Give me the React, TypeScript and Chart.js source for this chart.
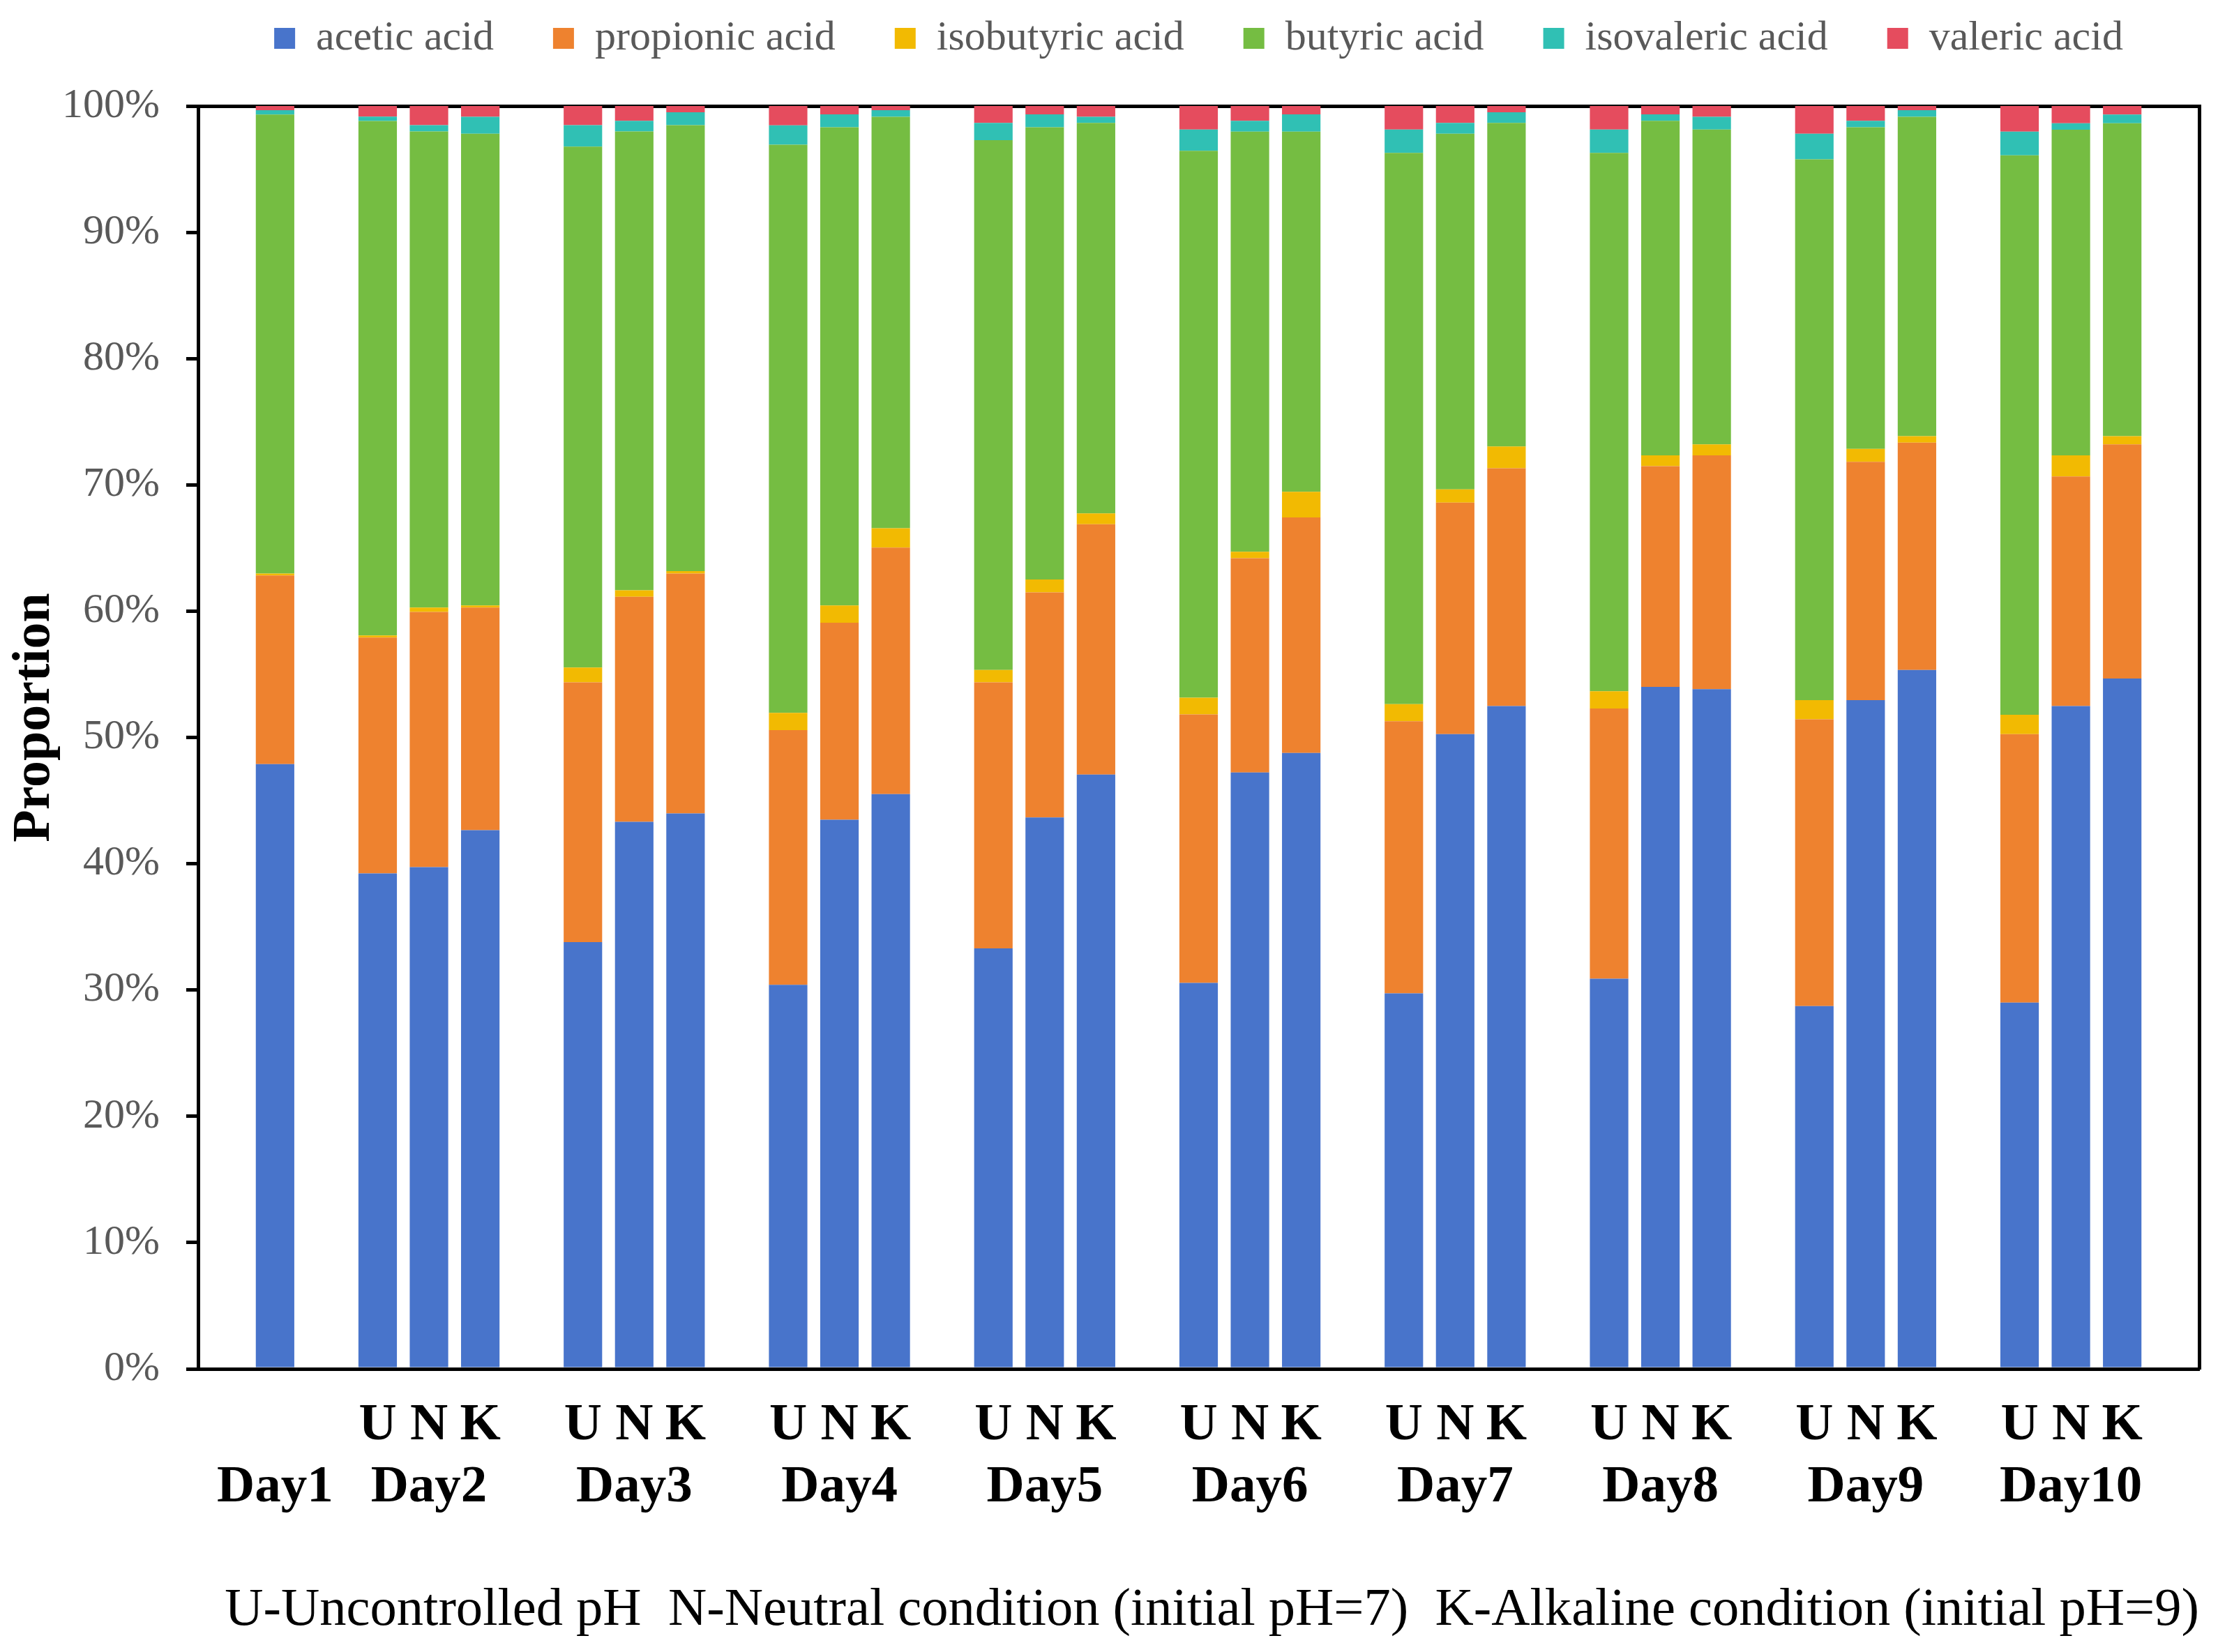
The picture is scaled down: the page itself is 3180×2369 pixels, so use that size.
import { useEffect, useRef } from 'react';
import { Chart, registerables } from 'chart.js';

Chart.register(...registerables);

const days = ['Day1', 'Day2', 'Day3', 'Day4', 'Day5', 'Day6', 'Day7', 'Day8', 'Day9', 'Day10'];
const conditions = ['U', 'N', 'K'];

// proportions in %, order: Day1, then U / N / K for Day2 ... Day10
const acetic = [47.89, 39.23, 39.73, 42.65, 33.8, 43.32, 43.98, 30.41, 43.48, 45.51, 33.3, 43.67, 47.06, 30.57, 47.22, 48.77, 29.74, 50.26, 52.48, 30.89, 54.01, 53.82, 28.73, 52.96, 55.34, 29.01, 52.48, 54.67];
const propionic = [14.93, 18.68, 20.21, 17.64, 20.56, 17.82, 19.0, 20.17, 15.6, 19.53, 21.06, 17.82, 19.82, 21.25, 16.97, 18.65, 21.54, 18.34, 18.84, 21.4, 17.47, 18.52, 22.71, 18.87, 18.01, 21.25, 18.18, 18.53];
const isobutyric = [0.16, 0.16, 0.35, 0.16, 1.17, 0.51, 0.19, 1.37, 1.37, 1.53, 0.98, 1.02, 0.86, 1.33, 0.51, 2.03, 1.36, 1.04, 1.72, 1.37, 0.86, 0.86, 1.52, 1.02, 0.51, 1.53, 1.68, 0.66];
const butyric = [36.34, 40.74, 37.69, 37.35, 41.26, 36.33, 35.31, 44.99, 37.87, 32.58, 41.95, 35.81, 30.92, 43.3, 33.27, 28.52, 43.64, 28.17, 25.62, 42.62, 26.48, 24.94, 42.82, 25.47, 25.29, 44.31, 25.78, 24.78];
const isovaleric = [0.35, 0.35, 0.5, 1.34, 1.69, 0.85, 1.02, 1.53, 1.02, 0.52, 1.37, 1.02, 0.49, 1.69, 0.85, 1.37, 1.86, 0.85, 0.84, 1.86, 0.52, 1.01, 2.03, 0.5, 0.52, 1.87, 0.52, 0.68];
const valeric = [0.33, 0.84, 1.52, 0.86, 1.52, 1.17, 0.5, 1.53, 0.66, 0.33, 1.34, 0.66, 0.85, 1.86, 1.18, 0.66, 1.86, 1.34, 0.5, 1.86, 0.66, 0.85, 2.19, 1.18, 0.33, 2.03, 1.36, 0.68];

const series = [
  { label: 'acetic acid', values: acetic, color: '#4874CB' },
  { label: 'propionic acid', values: propionic, color: '#EE822F' },
  { label: 'isobutyric acid', values: isobutyric, color: '#F2BA02' },
  { label: 'butyric acid', values: butyric, color: '#75BD42' },
  { label: 'isovaleric acid', values: isovaleric, color: '#30C0B4' },
  { label: 'valeric acid', values: valeric, color: '#E54C5E' },
];

const xTitle = 'U-Uncontrolled pH  N-Neutral condition (initial pH=7)  K-Alkaline condition (initial pH=9)';
const yTitle = 'Proportion';

// category slots: an empty slot before each day group and one at the end
const slotLabels: (string | string[])[] = [];
const sampleSlot: number[] = [];
days.forEach((day, d) => {
  slotLabels.push('');
  const conds = d === 0 ? [''] : conditions;
  conds.forEach((c, i) => {
    const middle = conds.length === 1 || i === 1;
    slotLabels.push(middle ? [c, day] : [c]);
    sampleSlot.push(slotLabels.length - 1);
  });
});
slotLabels.push('');

const toSlots = (values: number[]) => {
  const out: (number | null)[] = slotLabels.map(() => null);
  sampleSlot.forEach((s, i) => {
    out[s] = values[i];
  });
  return out;
};

const serif = "'Liberation Serif', 'Times New Roman', serif";
const nbsp = '\u00a0';

const App = () => {
  const chartRef = useRef<HTMLCanvasElement | null>(null);

  useEffect(() => {
    document.body.style.margin = '0';
    if (!chartRef.current) return;
    const ctx = chartRef.current.getContext('2d');
    if (!ctx) return;

    const chart = new Chart(ctx, {
      type: 'bar',
      data: {
        labels: slotLabels,
        datasets: series.map((s) => ({
          label: s.label,
          data: toSlots(s.values),
          backgroundColor: s.color,
          borderWidth: 0,
          barPercentage: 0.75,
          categoryPercentage: 1,
        })),
      },
      options: {
        animation: false,
        responsive: true,
        maintainAspectRatio: false,
        devicePixelRatio: 1,
        layout: { padding: 0 },
        plugins: {
          tooltip: { enabled: false },
          legend: {
            position: 'top',
            fullSize: false,
            labels: {
              font: { family: serif, size: 60 },
              color: '#595959',
              boxWidth: 30,
              boxHeight: 30,
              padding: 25,
              // wider gap between items without extra vertical padding
              generateLabels: (c: Chart) =>
                Chart.defaults.plugins.legend.labels
                  .generateLabels(c)
                  .map((item, i, arr) => ({
                    ...item,
                    text: i < arr.length - 1 ? item.text + '    ' : item.text,
                  })),
            },
          },
        },
        scales: {
          x: {
            stacked: true,
            z: 1,
            grid: { display: false, drawTicks: false },
            border: { display: true, color: '#000', width: 5 },
            ticks: {
              autoSkip: false,
              maxRotation: 0,
              padding: 37,
              color: '#000',
              font: { family: serif, size: 75, weight: 'bold', lineHeight: 1.19 },
            },
            title: {
              display: true,
              text: nbsp + nbsp + xTitle,
              color: '#000',
              font: { family: serif, size: 77, lineHeight: 1.2 },
              padding: { top: 0, bottom: 13 },
            },
            afterFit: (s: any) => {
              s.height = 406;
            },
          },
          x2: {
            type: 'category',
            position: 'top',
            z: 1,
            grid: { display: false, drawTicks: false },
            ticks: { display: false },
            border: { display: true, color: '#000', width: 5 },
            afterFit: (s: any) => {
              s.height = 57;
            },
          },
          y: {
            stacked: true,
            min: 0,
            max: 100,
            grid: { drawOnChartArea: false, drawTicks: true, tickLength: 17, color: '#000', lineWidth: 5 },
            border: { display: true, color: '#000', width: 5 },
            ticks: {
              stepSize: 10,
              padding: 38,
              color: '#595959',
              font: { family: serif, size: 60 },
              callback: (v: any) => v + '%',
            },
            title: {
              display: true,
              text: nbsp + nbsp + nbsp + yTitle,
              color: '#000',
              font: { family: serif, size: 76, weight: 'bold', lineHeight: 1.2 },
              padding: { top: 5, bottom: 0 },
            },
            afterFit: (s: any) => {
              s.width = 284;
            },
          },
          y2: {
            type: 'linear',
            position: 'right',
            min: 0,
            max: 100,
            z: 1,
            grid: { display: false, drawTicks: false },
            ticks: { display: false },
            border: { display: true, color: '#000', width: 5 },
            afterFit: (s: any) => {
              s.width = 27;
            },
          },
        },
      },
    });

    return () => {
      chart.destroy();
    };
  }, []);

  return (
    <div style={{ position: 'relative', width: 3180, height: 2369, background: '#fff' }}>
      <canvas ref={chartRef}></canvas>
    </div>
  );
};

export default App;
